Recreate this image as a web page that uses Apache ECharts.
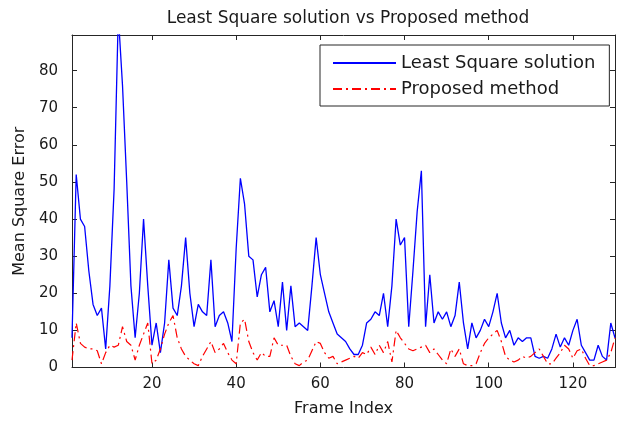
<!DOCTYPE html>
<html>
<head>
<meta charset="utf-8">
<script src="https://cdn.jsdelivr.net/npm/echarts@6/dist/echarts.min.js"></script>
<style>
html,body{margin:0;padding:0;background:#fff;}
#chart{width:620px;height:423px;}
</style>
</head>
<body>
<div id="chart"></div>
<script>
const titleText = 'Least Square solution vs Proposed method';
const seriesNames = ['Least Square solution', 'Proposed method'];
const xTickValues = [20, 40, 60, 80, 100, 120];
const yTickValues = [0, 10, 20, 30, 40, 50, 60, 70, 80];

const leastSquare = [
  8, 52, 40, 38, 26, 17, 14, 16, 5, 22,
  48, 95, 76, 50, 22, 8, 20, 40, 22, 6,
  12, 4, 12, 29, 16, 14, 22, 35, 20, 11,
  17, 15, 14, 29, 11, 14, 15, 12, 7, 32,
  51, 44, 30, 29, 19, 25, 27, 15, 18, 11,
  23, 10, 22, 11, 12, 11, 10, 22, 35, 25,
  20, 15, 12, 9, 8, 7, 5, 3.5, 3.5, 6,
  12, 13, 15, 14, 20, 11, 22, 40, 33, 35,
  11, 26, 42, 53, 11, 25, 12, 15, 13, 15,
  11, 14, 23, 12, 5, 12, 8, 10, 13, 11,
  15, 20, 12, 8, 10, 6, 8, 7, 8, 8,
  3, 2.5, 3, 2.5, 5, 9, 5.5, 8, 6, 10,
  13, 6, 4, 2, 2, 6, 3, 2, 12, 8
];
const proposed = [
  2, 12, 6.5, 5.5, 5, 5, 4.5, 1, 4, 6,
  5.5, 6, 11, 7, 6, 2, 6, 9, 12, 1,
  2, 5, 9, 12, 14, 8, 5, 3, 2, 1,
  0.5, 3, 5, 7, 4, 5, 6.5, 4, 2, 1,
  12, 13, 7, 4, 2, 4, 3, 3, 8, 6,
  6, 6, 3, 1, 0.5, 1.5, 2, 4.5, 7, 6.5,
  4, 2.5, 3, 1, 1.5, 2, 2.5, 3, 2.5, 4,
  3.5, 5.5, 3.5, 6, 4, 7, 1.5, 10, 8, 6.5,
  5, 4.5, 5, 5.5, 6, 4, 5, 3.5, 2, 1,
  5, 3, 5, 1, 0.5, 0.5, 1, 4, 6.5, 8,
  9, 10, 7, 3, 2, 1.5, 2, 3, 2.5, 3,
  4, 5, 3, 1, 1, 2.5, 4, 6, 5, 2.5,
  4.5, 5, 2.5, 0.5, 0.5, 1, 1.5, 2, 4, 8
];
const frameIndex = leastSquare.map((_, i) => i + 1);

const FONT = 'DejaVu Sans';
const TXT = '#1a1a1a';
const AXC = '#262626';

const chart = echarts.init(document.getElementById('chart'), null, {renderer: 'canvas'});

const baseX = {
  type: 'value', min: 1, max: 130,
  splitLine: {show: false},
  axisLine: {show: true, onZero: false, lineStyle: {color: AXC, width: 1}},
  axisTick: {show: true, inside: true, length: 5, customValues: xTickValues, lineStyle: {color: AXC}}
};
const baseY = {
  type: 'value', min: 0, max: 89.6,
  splitLine: {show: false},
  axisLine: {show: true, onZero: false, lineStyle: {color: AXC, width: 1}},
  axisTick: {show: true, inside: true, length: 5, customValues: yTickValues, lineStyle: {color: AXC}}
};

const option = {
  animation: false,
  backgroundColor: '#ffffff',
  title: {
    text: titleText,
    left: 343, top: 5, textAlign: 'center',
    textStyle: {fontFamily: FONT, fontSize: 17, fontWeight: 'normal', color: TXT}
  },
  grid: {left: 72, right: 5, top: 35, bottom: 55.5, containLabel: false},
  legend: {
    orient: 'vertical',
    left: 320, top: 45,
    padding: [9, 14, 8, 12],
    itemWidth: 63, itemHeight: 14, itemGap: 8,
    backgroundColor: '#ffffff',
    borderColor: AXC, borderWidth: 1,
    itemStyle: {opacity: 0},
    textStyle: {fontFamily: FONT, fontSize: 18, color: TXT, lineHeight: 18},
    data: seriesNames
  },
  xAxis: [
    Object.assign({}, baseX, {
      position: 'bottom',
      name: 'Frame Index', nameLocation: 'middle', nameGap: 33,
      nameTextStyle: {fontFamily: FONT, fontSize: 16, color: TXT},
      axisLabel: {show: true, customValues: xTickValues, fontFamily: FONT, fontSize: 15, color: TXT, margin: 9}
    }),
    Object.assign({}, baseX, {position: 'top', axisLabel: {show: false}})
  ],
  yAxis: [
    Object.assign({}, baseY, {
      position: 'left',
      name: 'Mean Square Error', nameLocation: 'middle', nameGap: 40, nameRotate: 90,
      nameTextStyle: {fontFamily: FONT, fontSize: 16, color: TXT},
      axisLabel: {show: true, customValues: yTickValues, fontFamily: FONT, fontSize: 15, color: TXT, margin: 14}
    }),
    Object.assign({}, baseY, {position: 'right', axisLabel: {show: false}})
  ],
  series: [
    {
      name: seriesNames[0], type: 'line', symbol: 'none', clip: true,
      xAxisIndex: 0, yAxisIndex: 0,
      color: '#0000ff',
      lineStyle: {color: '#0000ff', width: 1.3, type: 'solid'},
      data: frameIndex.map((f, i) => [f, leastSquare[i]])
    },
    {
      name: seriesNames[1], type: 'line', symbol: 'none', clip: true,
      xAxisIndex: 0, yAxisIndex: 0,
      color: '#ff0000',
      lineStyle: {color: '#ff0000', width: 1.2, type: [9, 4, 2, 4]},
      data: frameIndex.map((f, i) => [f, proposed[i]])
    }
  ]
};
chart.setOption(option);
</script>
</body>
</html>
